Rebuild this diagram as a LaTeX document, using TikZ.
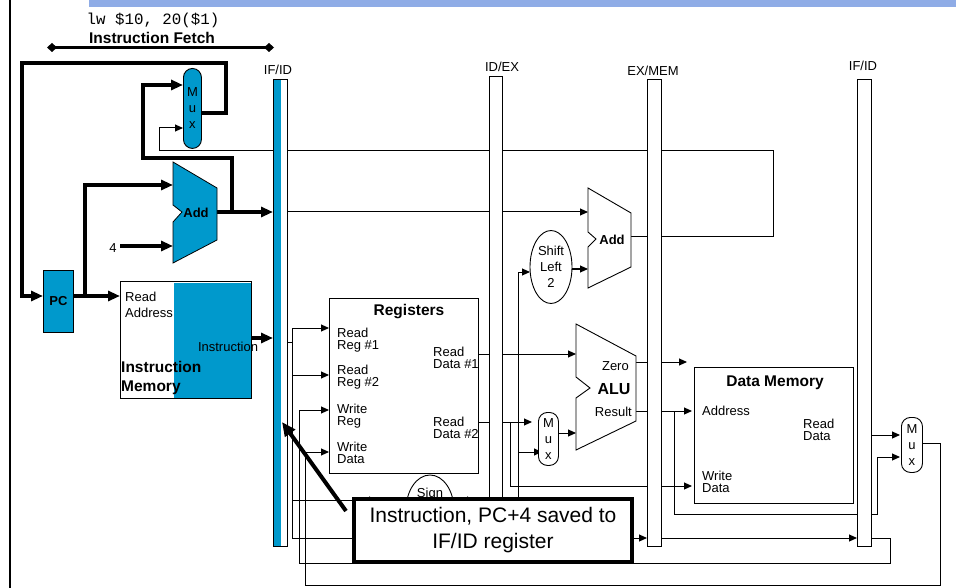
\documentclass[tikz,border=0pt]{standalone}
\usepackage{fontspec}
\setmainfont{Liberation Sans}
\newfontfamily\monofont{Liberation Mono}
\usetikzlibrary{arrows.meta,shapes.geometric,backgrounds,calc}
\definecolor{ifblue}{RGB}{0,153,204}
\definecolor{bandblue}{RGB}{143,172,230}
\begin{document}
\begin{tikzpicture}[x=1pt,y=-1pt,
  wire/.style={line width=1pt},
  bwire/.style={line width=3.5pt},
  arr/.style={-{Triangle[length=8pt,width=7pt]}},
  barr/.style={-{Triangle[length=12pt,width=10pt]}},
  lbl/.style={font=\fontsize{13}{11.5}\selectfont, inner sep=0pt, align=left},
  blbl/.style={font=\fontsize{15.5}{19}\selectfont\bfseries, inner sep=0pt, align=left},
  preg/.style={draw, line width=0.9pt, fill=white, minimum width=14, minimum height=467, inner sep=0, anchor=north west},
  box/.style={draw, line width=0.9pt, fill=white, inner sep=0, anchor=north west},
  muxbox/.style={draw, line width=0.9pt, rounded corners=9pt, inner sep=0, anchor=north west, font=\fontsize{13}{16}\selectfont, align=center},
]
\useasboundingbox (0,0) rectangle (956,588);

% ---- pipeline registers
\node[preg] (ifid) at (273,79) {};
\fill[ifblue] (ifid.north west) rectangle ($(ifid.south west)+(8,0)$);
\draw[line width=0.9pt] (ifid.north west) rectangle (ifid.south east);
\node[preg, minimum width=13, minimum height=470] (idex) at (489,76) {};
\node[preg] (exmem) at (647,79) {};
\node[preg] (memwb) at (857,79) {};
\node[lbl] (lifid) at (278,70) {IF/ID};
\node[lbl] (lidex) at (502,67) {ID/EX};
\node[lbl] (lexmem) at (653,71) {EX/MEM};
\node[lbl] (lmemwb) at (863,66) {IF/ID};

% ---- top texts
\node[font=\monofont\fontsize{15.8}{16}\selectfont, inner sep=0] (lw) at (153,20) {lw \$10, 20(\$1)};
\node[blbl] (ifetch) at (152,38) {Instruction Fetch};
\coordinate (fetchL) at (47,47.5);
\coordinate (fetchR) at (274,47.5);
\draw[line width=3pt, {Diamond[length=10pt,width=9pt]}-{Diamond[length=10pt,width=9pt]}] (fetchL) -- (fetchR);

% ---- IF stage
\node[box, minimum width=30, minimum height=62, fill=ifblue, font=\fontsize{13}{14}\selectfont\bfseries] (pc) at (43,270) {PC};
\node[box, minimum width=131, minimum height=117] (imem) at (120,281) {};
\fill[ifblue] ($(imem.north west)+(54,2)$) rectangle ($(imem.south east)+(-1,-1)$);
\node[lbl, font=\fontsize{13}{16}\selectfont, anchor=west] (imemra) at (125,305) {Read\\Address};
\node[lbl] (imemins) at (228,347) {Instruction};
\node[blbl, anchor=west] (imemname) at (121,378) {Instruction\\Memory};

\filldraw[fill=ifblue, draw=black, line width=0.8pt] (173,162) -- (217,188) -- (217,240) -- (173,263) -- (173,222) -- (182,212) -- (173,205) -- cycle;
\node[font=\fontsize{13}{14}\selectfont\bfseries, inner sep=0] (addif) at (196,213) {Add};
\node[lbl] (four) at (113,248) {4};
\node[muxbox, fill=ifblue, minimum width=18, minimum height=80] (muxif) at (183,68) {M\\u\\x};

% ---- ID stage
\node[box, minimum width=149, minimum height=175] (regs) at (329,298) {};
\node[blbl] (regsname) at (409,312) {Registers};
\node[lbl, anchor=west] (lrr1) at (337,340) {Read\\Reg \#1};
\node[lbl, anchor=west] (lrr2) at (337,377) {Read\\Reg \#2};
\node[lbl, anchor=west] (lwr) at (337,416) {Write\\Reg};
\node[lbl, anchor=west] (lwd) at (337,453) {Write\\Data};
\node[lbl, anchor=west] (lrd1) at (433,358) {Read\\Data \#1};
\node[lbl, anchor=west] (lrd2) at (433,428) {Read\\Data \#2};
\node[draw, ellipse, line width=0.9pt, fill=white, minimum width=48, minimum height=70, inner sep=0] (sign) at (430,510) {};
\node[lbl] (lsign) at (430,494) {Sign};

% ---- EX stage
\node[draw, ellipse, line width=0.9pt, fill=white, minimum width=42, minimum height=73, inner sep=0, font=\fontsize{13}{16}\selectfont, align=center] (shift) at (551,267) {Shift\\Left\\2};
\filldraw[fill=white, draw=black, line width=0.9pt] (588,188) -- (631,213) -- (631,267) -- (588,288) -- (588,247) -- (596,239) -- (588,232) -- cycle;
\node[font=\fontsize{13}{14}\selectfont\bfseries, inner sep=0] (addex) at (612,240) {Add};
\filldraw[fill=white, draw=black, line width=0.9pt] (576,324) -- (636,356) -- (636,421) -- (576,450) -- (576,398) -- (590,388) -- (576,377) -- cycle;
\node[lbl, anchor=east] (lzero) at (629,366) {Zero};
\node[font=\fontsize{16}{17}\selectfont\bfseries, inner sep=0] (alu) at (614,389) {ALU};
\node[lbl, anchor=east] (lresult) at (632,412) {Result};
\node[muxbox, fill=white, minimum width=20, minimum height=53] (muxex) at (538,412) {M\\u\\x};

% ---- MEM / WB
\node[box, minimum width=159, minimum height=136] (dm) at (694,367) {};
\node[blbl] (dmname) at (775,383) {Data Memory};
\node[lbl, anchor=west] (ldma) at (702,411) {Address};
\node[lbl, anchor=west] (ldmrd) at (803,430) {Read\\Data};
\node[lbl, anchor=west] (ldmwd) at (702,482) {Write\\Data};
\node[muxbox, fill=white, minimum width=21, minimum height=55] (muxwb) at (901,417) {M\\u\\x};

% ---- ports
\coordinate (muxifO) at (201,113);
\coordinate (muxifA) at (183,85);
\coordinate (muxifB) at (183,128);
\coordinate (pcI) at (43,296);
\coordinate (pcO) at (73,296);
\coordinate (pcbr) at (85,296);
\coordinate (imemA) at (120,296);
\coordinate (addifA) at (173,185);
\coordinate (addifB) at (173,246);
\coordinate (addifO) at (217,212);
\coordinate (pc4br) at (232,212);
\coordinate (fourO) at (120,246);
\coordinate (ifidA) at (273,212);
\coordinate (imemO) at (248,338);
\coordinate (ifidI) at (273,338);
\coordinate (bustap) at (292,342);
\coordinate (bustop) at (292,328);
\coordinate (busbot) at (292,538);
\coordinate (rr1) at (329,328);
\coordinate (rr2) at (329,375);
\coordinate (wr) at (329,410);
\coordinate (wd) at (329,452);
\coordinate (rd1) at (478,354);
\coordinate (rd2) at (478,422);
\coordinate (signI) at (377,500);
\coordinate (signO) at (454,500);
\coordinate (signOt) at (475,500);
\coordinate (shiftI) at (530,272);
\coordinate (shiftO) at (572,269);
\coordinate (addexA) at (588,212);
\coordinate (addexB) at (588,269);
\coordinate (addexO) at (631,237);
\coordinate (aluA) at (576,354);
\coordinate (aluB) at (576,433);
\coordinate (aluZ) at (636,362);
\coordinate (aluR) at (636,411);
\coordinate (zeroT) at (687,362);
\coordinate (muxexA) at (532,422);
\coordinate (muxexB) at (542,452);
\coordinate (muxexO) at (558,433);
\coordinate (dmA) at (692,411);
\coordinate (dmwd) at (692,486);
\coordinate (exA) at (647,538);
\coordinate (muxwbA) at (900,435);
\coordinate (muxwbB) at (900,457);
\coordinate (muxwbO) at (922,443);

% ---- wires (behind the boxes)
\begin{pgfonlayer}{background}
\fill[bandblue] (89,0) rectangle (956,7);
\draw[line width=2.5pt] (10,0) -- (10,588);
% thick IF wires
\draw[bwire,barr] (muxifO) -- (226,113) -- (226,63) -- (22,63) -- (22,296) -- (pcI);
\draw[bwire,barr] (pcO) -- (imemA);
\draw[bwire,barr] (pcbr) |- (addifA);
\draw[bwire,barr] (fourO) -- (addifB);
\draw[bwire,barr] (addifO) -- (ifidA);
\draw[bwire,barr] (pc4br) -- (232,158) -- (143,158) -- (143,85) -- (muxifA);
\draw[bwire,barr] (imemO) -- (ifidI);
% thin wires
\draw[wire,arr] (addexO) -- (773,237) -- (773,151) -- (159,151) -- (159,128) -- (muxifB);
\draw[wire,arr] (ifid.east |- addexA) -- (addexA);
\draw[wire] (ifid.east |- bustap) -- (bustap);
\draw[wire] (bustop) -- (busbot);
\draw[wire,arr] (bustop) -- (rr1);
\draw[wire,arr] (292,375) -- (rr2);
\draw[wire,arr] (292,500) -- (signI);
\draw[wire,arr] (busbot) -- (exA);
\draw[wire,arr] (exmem.east |- exA) -- (memwb.west |- exA);
\draw[wire,arr] (memwb.east |- exA) -- (890,538) -- (890,563) -- (299,563) -- (299,410) -- (wr);
\draw[wire,arr] (muxwbO) -- (940,443) -- (940,585) -- (305,585) -- (305,452) -- (wd);
\draw[wire,arr] (rd1) -- (aluA);
\draw[wire,arr] (rd2) -- (muxexA);
\draw[wire,arr] (510,422) -- (510,486) -- (dmwd);
\draw[wire,arr] (signO) -- (signOt);
\draw[wire,arr] (502,512) -- (518,512) -- (518,272) -- (shiftI);
\draw[wire,arr] (518,452) -- (muxexB);
\draw[wire,arr] (shiftO) -- (addexB);
\draw[wire,arr] (muxexO) -- (aluB);
\draw[wire,arr] (aluZ) -- (zeroT);
\draw[wire,arr] (aluR) -- (dmA);
\draw[wire,arr] (674,411) -- (674,514) -- (877,514) -- (877,457) -- (muxwbB);
\draw[wire,arr] (memwb.east |- muxwbA) -- (muxwbA);
\end{pgfonlayer}

% ---- callout
\node[draw, line width=4pt, fill=white, minimum width=278, minimum height=63, inner sep=0, align=center, font=\fontsize{21}{26}\selectfont] (callout) at (493,530.5) {Instruction, PC+4 saved to\\IF/ID register};
\coordinate (cstart) at (346,511);
\coordinate (ctip) at (282,422);
\draw[line width=4pt, -{Triangle[length=14pt,width=12pt]}] (cstart) -- (ctip);
\end{tikzpicture}
\end{document}
